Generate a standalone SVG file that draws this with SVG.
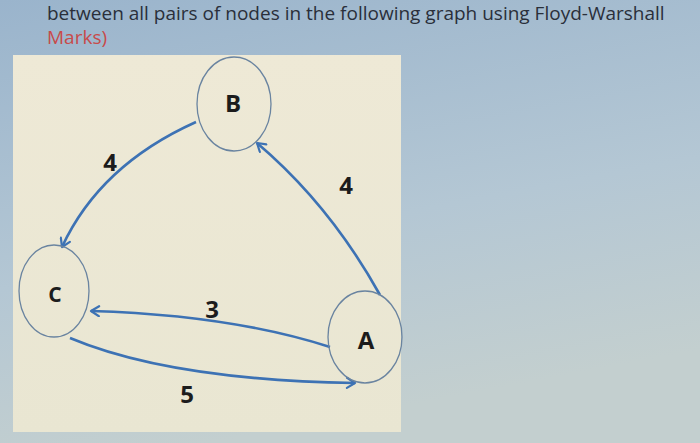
<svg xmlns="http://www.w3.org/2000/svg" width="700" height="443" viewBox="0 0 700 443">
  <defs>
    <linearGradient id="bg" x1="0" y1="0" x2="0.3" y2="1">
      <stop offset="0" stop-color="#9ab4cc"/>
      <stop offset="0.6" stop-color="#b4c7d4"/>
      <stop offset="1" stop-color="#c3cfcf"/>
    </linearGradient>
    <linearGradient id="panel" x1="0" y1="0" x2="0" y2="1">
      <stop offset="0" stop-color="#eee9d6"/>
      <stop offset="1" stop-color="#e9e6d2"/>
    </linearGradient>
    <marker id="arr" viewBox="0 0 12 12" refX="10" refY="6" markerWidth="12" markerHeight="12" markerUnits="userSpaceOnUse" orient="auto">
      <path d="M2,1 L10,6 L2,11" fill="none" stroke="#3d72b4" stroke-width="2.2" stroke-linecap="round" stroke-linejoin="round"/>
    </marker>
    <style>
      .node { fill: none; stroke: #6a84a0; stroke-width: 1.3; }
      .lbl { font-family: "Open Sans", "Liberation Sans", sans-serif; font-weight: bold; font-size: 24px; fill: #1c1c1c; text-anchor: middle; }
      .edge { fill: none; stroke: #3d72b4; stroke-width: 2.6; marker-end: url(#arr); }
      .top { font-family: "Open Sans", "Liberation Sans", sans-serif; font-size: 19px; }
    </style>
  </defs>
  <rect width="700" height="443" fill="url(#bg)"/>
  <text class="top" x="47" y="20" fill="#2a2f3a">between all pairs of nodes in the following graph using Floyd-Warshall</text>
  <text class="top" x="47" y="44" fill="#c84a4a">Marks)</text>
  <rect x="13" y="55" width="388" height="377" fill="url(#panel)"/>
  <g id="edges">
    <path id="e-BC" class="edge" d="M196,122 Q100,165 62,247"/>
    <path id="e-AB" class="edge" d="M380,295 Q330,205 257,143"/>
    <path id="e-AC" class="edge" d="M330,347 Q230,315 91,311"/>
    <path id="e-CA" class="edge" d="M70,338 Q170,380 355,383"/>
    <text class="lbl" x="110" y="171">4</text>
    <text class="lbl" x="346" y="194">4</text>
    <text class="lbl" x="212" y="318">3</text>
    <text class="lbl" x="187" y="403">5</text>
  </g>
  <g id="node-B">
    <ellipse class="node" cx="234" cy="104" rx="37" ry="47"/>
    <text class="lbl" x="233" y="112">B</text>
  </g>
  <g id="node-C">
    <ellipse class="node" cx="54" cy="291" rx="35" ry="46"/>
    <text class="lbl" x="55" y="302" style="font-size:21px">C</text>
  </g>
  <g id="node-A">
    <ellipse class="node" cx="365" cy="337" rx="37" ry="46"/>
    <text class="lbl" x="366" y="349">A</text>
  </g>
</svg>
